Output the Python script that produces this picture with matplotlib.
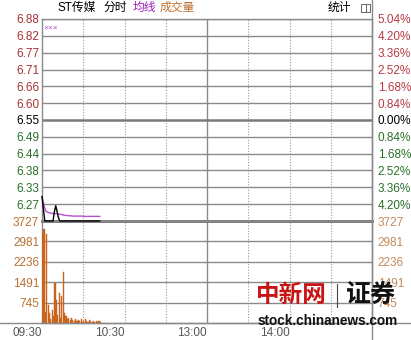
import matplotlib.pyplot as plt
from matplotlib.lines import Line2D
from matplotlib.patches import Rectangle

plt.rcParams['font.family'] = ['Liberation Sans', 'Noto Sans CJK SC', 'DejaVu Sans']

# chart data
stock_name = "ST传媒"
prev_close = 6.55
pct_levels = [5.04, 4.20, 3.36, 2.52, 1.68, 0.84, 0.00, -0.84, -1.68, -2.52, -3.36, -4.20]
price_labels = ["6.88", "6.82", "6.77", "6.71", "6.66", "6.60", "6.55",
                "6.49", "6.44", "6.38", "6.33", "6.27"]
pct_labels = ["5.04%", "4.20%", "3.36%", "2.52%", "1.68%", "0.84%", "0.00%",
              "0.84%", "1.68%", "2.52%", "3.36%", "4.20%"]
vol_max = 3727
vol_levels = [3727, 2981, 2236, 1491, 745]
time_ticks = [0, 60, 120, 180]
time_labels = ["09:30", "10:30", "13:00", "14:00"]

price = [6.30, 6.26, 6.22, 6.22, 6.22, 6.22, 6.22, 6.22, 6.22, 6.25,
         6.27, 6.25, 6.23, 6.22, 6.22, 6.22, 6.22, 6.22, 6.22, 6.22,
         6.22, 6.22, 6.22, 6.22, 6.22, 6.22, 6.22, 6.22, 6.22, 6.22,
         6.22, 6.22, 6.22, 6.22, 6.22, 6.22, 6.22, 6.22, 6.22, 6.22,
         6.22, 6.22, 6.22]
avg_price = [6.300, 6.280, 6.262, 6.251, 6.249, 6.247, 6.246, 6.245, 6.244, 6.244,
             6.244, 6.244, 6.243, 6.242, 6.241, 6.240, 6.239, 6.238, 6.238, 6.237,
             6.237, 6.237, 6.236, 6.236, 6.236, 6.236, 6.236, 6.236, 6.236, 6.236,
             6.235, 6.235, 6.235, 6.235, 6.235, 6.235, 6.235, 6.235, 6.235, 6.235,
             6.235, 6.235, 6.235]
volume = [3300, 3450, 400, 3250, 650, 360, 150, 470, 250, 1460,
          840, 300, 1100, 200, 1000, 1860, 360, 250, 150, 200,
          100, 180, 120, 90, 140, 60, 110, 80, 150, 50,
          90, 130, 70, 40, 100, 60, 30, 80, 50, 60,
          40, 70, 30]

red = '#a83232'
green = '#2a702a'
brown = '#b8702e'
grid_c = '#8a8a8a'

fig = plt.figure(figsize=(4.11, 3.40), dpi=100)
W, H = 411, 340
x0, x1 = 42 / W, 372 / W
axv = fig.add_axes([x0, 1 - 323 / H, x1 - x0, (323 - 221) / H])
ax = fig.add_axes([x0, 1 - 221 / H, x1 - x0, (221 - 19) / H])
ax.patch.set_visible(False)

minutes = list(range(len(price)))
lo = prev_close * (1 - 0.0504)
hi = prev_close * (1 + 0.0504)
levels = [prev_close * (1 + p / 100) for p in pct_levels]

for a in (ax, axv):
    a.set_xlim(0, 240)
    for s in a.spines.values():
        s.set_color(grid_c)
        s.set_linewidth(1.0)
    a.tick_params(length=0)
    for m in [30, 60, 90, 150, 180, 210]:
        a.axvline(m, color='#999999', lw=0.8, ls=(0, (1, 1.5)))
    a.axvline(120, color=grid_c, lw=1.0)

# volume panel
axv.set_ylim(0, vol_max)
for lv in vol_levels[1:]:
    axv.axhline(lv, color=grid_c, lw=1.0)
axv.axhline(vol_max, color='#6e6e6e', lw=2.0, clip_on=False)
axv.bar(minutes, volume, width=0.9, color='#c8641e', edgecolor='#c8641e', lw=0.3,
        align='edge', zorder=3)
axv.set_yticks(vol_levels, [str(v) for v in vol_levels])
axv.tick_params(axis='y', labelsize=8.5, pad=2, colors=brown)
axv.set_xticks(time_ticks, time_labels)
axv.tick_params(axis='x', labelsize=8.5, pad=3, colors='#555555')
for lab in axv.get_xticklabels():
    lab.set_ha('right')
axvr = axv.twinx()
axvr.set_ylim(0, vol_max)
axvr.set_yticks(vol_levels, [str(v) for v in vol_levels])
axvr.tick_params(length=0, labelsize=8.5, pad=4, colors='#c48a5a')
for s in axvr.spines.values():
    s.set_visible(False)

# price panel, drawn above the volume panel
ax.set_ylim(lo, hi)
for p, lv in zip(pct_levels, levels):
    if p == 0:
        ax.axhline(lv, color='#7a7a7a', lw=1.8)
    else:
        ax.axhline(lv, color=grid_c, lw=1.0)
ax.plot(minutes, avg_price, color='#b84fd0', lw=1.0, zorder=3)
ax.plot(minutes, price, color='black', lw=1.0, zorder=4, clip_on=False)
ax.set_xticks([])
ax.set_yticks(levels, price_labels)
ax.spines['bottom'].set_visible(False)
ax.tick_params(axis='y', labelsize=8.5, pad=2)
for lab, p in zip(ax.get_yticklabels(), pct_levels):
    lab.set_color(red if p > 0 else (green if p < 0 else 'black'))
axr = ax.twinx()
axr.patch.set_visible(False)
axr.set_ylim(lo, hi)
axr.set_yticks(levels, pct_labels)
axr.tick_params(length=0, labelsize=8.5, pad=4)
for s in axr.spines.values():
    s.set_visible(False)
for lab, p in zip(axr.get_yticklabels(), pct_levels):
    lab.set_color('#b83a44' if p > 0 else (green if p < 0 else 'black'))
ax.text(0.005, 0.955, "×××", transform=ax.transAxes, fontsize=6,
        color='#b84fd0', ha='left', va='center')

# full-width bottom line and full-height right border
yb = axv.get_position().y0
fig.add_artist(Line2D([0, 1], [yb, yb], transform=fig.transFigure, color=grid_c, lw=1.0))
xr = axv.get_position().x1
fig.add_artist(Line2D([xr, xr], [0, 1], transform=fig.transFigure, color=grid_c, lw=1.0))

# header
hy = 1 - 8 / H
fig.text(57 / W, hy, stock_name, fontsize=8.5, ha='left', va='center', color='black')
fig.text(103 / W, hy, "分时", fontsize=8.5, ha='left', va='center', color='black')
fig.text(133 / W, hy, "均线", fontsize=8.5, ha='left', va='center', color='#a020c0')
fig.text(160 / W, hy, "成交量", fontsize=8.5, ha='left', va='center', color='#c07030')
fig.text(328 / W, hy, "统计", fontsize=8.5, ha='left', va='center', color='black')
fig.add_artist(Rectangle((361 / W, 1 - 12 / H), 9 / W, 8 / H, transform=fig.transFigure,
                         fill=False, edgecolor='#666666', lw=0.7))
fig.add_artist(Line2D([366 / W, 366 / W], [1 - 12 / H, 1 - 4 / H], transform=fig.transFigure,
                      color='#666666', lw=0.7))

# watermark
fig.text(291 / W, 1 - 295 / H, "中新网", fontsize=17, fontweight='bold', color='#c81414',
         ha='center', va='center', family=['Noto Sans CJK SC'])
fig.add_artist(Line2D([337 / W, 337 / W], [1 - 307 / H, 1 - 284 / H], transform=fig.transFigure,
                      color='#444444', lw=0.8))
fig.text(371 / W, 1 - 295 / H, "证券", fontsize=18, fontweight='bold', color='#111111',
         ha='center', va='center', family=['Noto Sans CJK SC'])
fig.text(328 / W, 1 - 321 / H, "stock.chinanews.com", fontsize=9.8, fontweight='bold',
         color='#111111', ha='center', va='center')

fig.savefig('out.png', dpi=100, facecolor='white')
